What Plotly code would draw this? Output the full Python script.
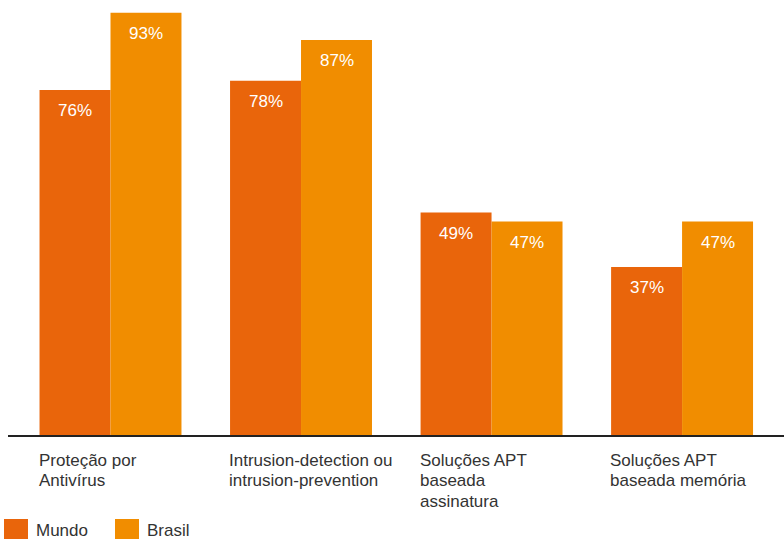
import plotly.graph_objects as go

# Data
categories = [
    ["Proteção por", "Antivírus"],
    ["Intrusion-detection ou", "intrusion-prevention"],
    ["Soluções APT", "baseada", "assinatura"],
    ["Soluções APT", "baseada memória"],
]
series_names = ["Mundo", "Brasil"]
mundo = [76, 78, 49, 37]
brasil = [93, 87, 47, 47]
series_values = [mundo, brasil]
series_colors = ["#E9650B", "#F18D00"]

W, H = 784, 540
FONT = "Liberation Sans, Arial, Helvetica, sans-serif"
BAR_GAP = 0.255
half = (1 - BAR_GAP) / 2  # width of one bar in axis units
LINE_H = 20.5             # line height of the category labels, px

x = list(range(len(categories)))
fig = go.Figure()
for name, vals, col in zip(series_names, series_values, series_colors):
    fig.add_trace(go.Bar(
        x=x, y=vals, name=name, marker=dict(color=col, line=dict(width=0)),
        showlegend=False, hoverinfo="skip",
    ))

annotations = []
# value labels inside the bars, near the top
for k, vals in enumerate(series_values):
    offset = -half / 2 if k == 0 else half / 2
    for i, v in enumerate(vals):
        annotations.append(dict(
            x=i + offset, y=v, xref="x", yref="y", text=f"{v}%",
            showarrow=False, yanchor="middle", xanchor="center", yshift=-21,
            font=dict(family=FONT, size=17, color="white"),
        ))
# category labels, left aligned under the first bar of each group
for i, lines in enumerate(categories):
    for j, line in enumerate(lines):
        annotations.append(dict(
            x=i - half, y=0, xref="x", yref="y", text=line, align="left",
            showarrow=False, xanchor="left", yanchor="middle",
            xshift=-3, yshift=-(25 + j * LINE_H),
            font=dict(family=FONT, size=17, color="#333333"),
        ))

# legend: swatches and names
shapes = []
legend_x = [4, 115]
PW, PH = W - 8, 435
for (name, col, lx) in zip(series_names, series_colors, legend_x):
    shapes.append(dict(
        type="rect", xref="paper", yref="paper",
        x0=(lx - 8) / PW, x1=(lx + 24 - 8) / PW,
        y0=-(519 - 435) / PH, y1=-(539 - 435) / PH,
        fillcolor=col, line=dict(width=0),
    ))
    annotations.append(dict(
        x=(lx + 30 - 8) / PW, y=-(530.5 - 435) / PH, xref="paper", yref="paper",
        text=name, showarrow=False, xanchor="left", yanchor="middle",
        font=dict(family=FONT, size=17, color="#333333"),
    ))

fig.update_layout(
    width=W, height=H,
    margin=dict(l=8, r=0, t=0, b=105),
    paper_bgcolor="white", plot_bgcolor="white",
    barmode="group", bargap=BAR_GAP, bargroupgap=0,
    xaxis=dict(range=[-0.538, 3.535], showticklabels=False, ticks="",
               showgrid=False, zeroline=False, showline=True,
               linecolor="#222222", linewidth=2, fixedrange=True),
    yaxis=dict(range=[0, 95.8], visible=False, fixedrange=True),
    annotations=annotations, shapes=shapes,
)

fig.write_html("out.html")
